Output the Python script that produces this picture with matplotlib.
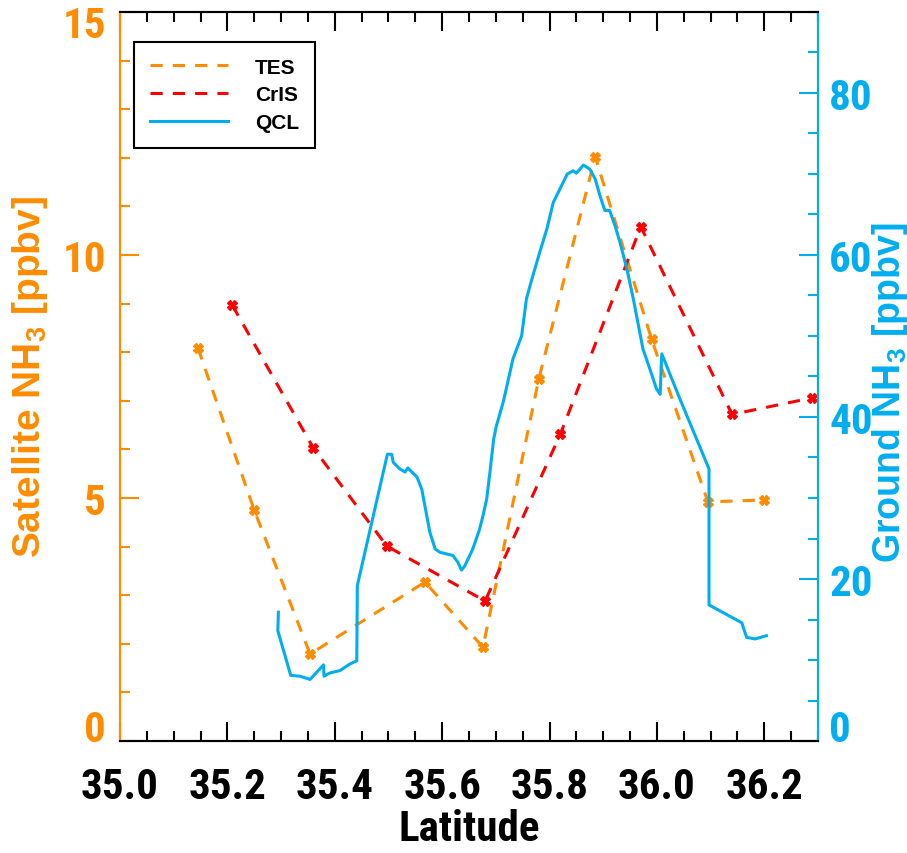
import numpy as np
import matplotlib
matplotlib.use("Agg")
import matplotlib.pyplot as plt
import matplotlib.transforms as mtransforms
from matplotlib.ticker import MultipleLocator
from matplotlib.lines import Line2D

plt.rcParams['font.family'] = ['Roboto Condensed', 'Liberation Sans', 'DejaVu Sans']
plt.rcParams['font.weight'] = 'bold'
plt.rcParams['axes.labelweight'] = 'bold'
plt.rcParams['mathtext.fontset'] = 'custom'
plt.rcParams['mathtext.bf'] = 'Liberation Sans:bold'
plt.rcParams['mathtext.rm'] = 'Liberation Sans:bold'

# satellite retrievals (left axis, ppbv)
tes_lat = [35.145, 35.25, 35.354, 35.568, 35.676, 35.78, 35.885, 35.99, 36.095, 36.20]
tes_nh3 = [8.09, 4.75, 1.79, 3.27, 1.93, 7.45, 12.02, 8.27, 4.92, 4.96]

cris_lat = [35.209, 35.36, 35.497, 35.68, 35.82, 35.97, 36.14, 36.289]
cris_nh3 = [8.97, 6.03, 4.01, 2.88, 6.31, 10.58, 6.72, 7.06]

# ground QCL (right axis, ppbv)
qcl_lat = [35.295, 35.294, 35.318, 35.335, 35.354, 35.379, 35.380, 35.391, 35.410,
           35.428, 35.441, 35.442, 35.498, 35.506, 35.509, 35.521, 35.531, 35.536,
           35.553, 35.562, 35.577, 35.587, 35.596, 35.608, 35.620, 35.629, 35.636,
           35.642, 35.657, 35.670, 35.676, 35.683, 35.689, 35.696, 35.701, 35.714,
           35.732, 35.748, 35.757, 35.767, 35.782, 35.795, 35.807, 35.819, 35.833,
           35.844, 35.850, 35.863, 35.875, 35.885, 35.894, 35.903, 35.912, 35.922,
           35.931, 35.944, 35.956, 35.974, 35.987, 35.999, 36.006, 36.009, 36.043,
           36.097, 36.097, 36.158, 36.167, 36.183, 36.204]
qcl_nh3 = [15.9, 13.6, 8.1, 8.0, 7.6, 9.4, 8.0, 8.4, 8.7,
           9.5, 9.9, 19.2, 35.4, 35.4, 34.4, 33.6, 33.2, 33.7,
           32.6, 31.1, 25.8, 23.7, 23.3, 23.1, 22.9, 22.1, 21.1,
           21.6, 23.7, 26.2, 27.8, 29.9, 33.2, 37.3, 38.9, 41.9,
           47.2, 50.0, 54.6, 57.0, 60.4, 63.2, 66.5, 68.1, 70.0,
           70.4, 70.1, 71.1, 70.6, 69.4, 67.3, 65.5, 65.5, 63.6,
           61.6, 58.3, 54.6, 48.4, 45.9, 43.5, 42.8, 47.8, 42.2,
           33.6, 16.8, 14.6, 12.8, 12.6, 13.0]

orange = '#FF8C00'
red = '#FF0000'
blue = '#00AEEF'
label_font = ['Liberation Sans', 'DejaVu Sans']

fig = plt.figure(figsize=(9.07, 8.54), dpi=100)
ax = fig.add_axes([120/907, 112/854, 698/907, 729/854])
ax2 = ax.twinx()

ax.plot(tes_lat, tes_nh3, color=orange, lw=2.2, dashes=(4, 3.3),
        marker='X', ms=7, mec=orange, mfc=orange)
ax.plot(cris_lat, cris_nh3, color=red, lw=2.2, dashes=(4, 3.3),
        marker='X', ms=7, mec=red, mfc=red)
ax2.plot(qcl_lat, qcl_nh3, color=blue, lw=2.2)

ax.set_xlim(35.0, 36.3)
ax.set_ylim(0, 15)
ax2.set_ylim(0, 90)

ax.xaxis.set_minor_locator(MultipleLocator(0.05))
ax.yaxis.set_major_locator(MultipleLocator(5))
ax.yaxis.set_minor_locator(MultipleLocator(1))
ax2.yaxis.set_major_locator(MultipleLocator(20))
ax2.yaxis.set_minor_locator(MultipleLocator(5))
xt = np.arange(35.0, 36.21, 0.2)
ax.set_xticks(xt)
ax.set_xticklabels(['%.1f' % v for v in xt])

ax.tick_params(axis='x', which='both', direction='in', top=True, colors='black',
               labelsize=31, pad=18, width=1.5)
ax.tick_params(axis='x', which='major', length=14)
ax.tick_params(axis='x', which='minor', length=7)
ax.tick_params(axis='y', which='both', direction='in', colors=orange,
               labelsize=31, pad=10, width=1.5)
ax.tick_params(axis='y', which='major', length=14)
ax.tick_params(axis='y', which='minor', length=7)
ax2.tick_params(axis='y', which='both', direction='in', colors=blue,
                labelsize=31, pad=8, width=1.5)
ax2.tick_params(axis='y', which='major', length=14)
ax2.tick_params(axis='y', which='minor', length=7)

for a in (ax, ax2):
    a.spines['left'].set_color(orange)
    a.spines['right'].set_color(blue)
    for s in a.spines.values():
        s.set_linewidth(1.5)

ax.set_xlabel('Latitude', fontsize=31, labelpad=1)
ax.set_ylabel(r'Satellite NH$_\mathbf{3}$ [ppbv]', fontsize=28, color=orange,
              family=label_font)
ax2.set_ylabel(r'Ground NH$_\mathbf{3}$ [ppbv]', fontsize=27, color=blue,
               family=label_font)
ax.yaxis.set_label_coords(-0.100, 0.5)
ax2.yaxis.set_label_coords(1.075, 0.48)

handles = [Line2D([], [], color=orange, lw=2.2, dashes=(4, 3.3)),
           Line2D([], [], color=red, lw=2.2, dashes=(4, 3.3)),
           Line2D([], [], color=blue, lw=2.2)]
leg = ax2.legend(handles, ['TES', 'CrIS', 'QCL'], loc='upper left',
                 bbox_to_anchor=(0.02, 0.959), borderaxespad=0,
                 prop={'family': label_font, 'weight': 'bold', 'size': 15},
                 handlelength=3.75, handletextpad=1.3, labelspacing=0.42,
                 borderpad=0.75, fancybox=False, framealpha=1)
leg.get_frame().set_edgecolor('black')
leg.get_frame().set_linewidth(1.5)

# IDL keeps the end labels inside the axis range: nudge 0 up and 15 down
fig.canvas.draw()
up = mtransforms.ScaledTranslation(0, 16/100, fig.dpi_scale_trans)
down = mtransforms.ScaledTranslation(0, -9/100, fig.dpi_scale_trans)
for t in ax.yaxis.get_major_ticks():
    if abs(t.get_loc()) < 1e-6:
        t.label1.set_transform(t.label1.get_transform() + up)
    elif abs(t.get_loc() - 15) < 1e-6:
        t.label1.set_transform(t.label1.get_transform() + down)
for t in ax2.yaxis.get_major_ticks():
    if abs(t.get_loc()) < 1e-6:
        t.label2.set_transform(t.label2.get_transform() + up)

fig.savefig('out.png', dpi=100)
